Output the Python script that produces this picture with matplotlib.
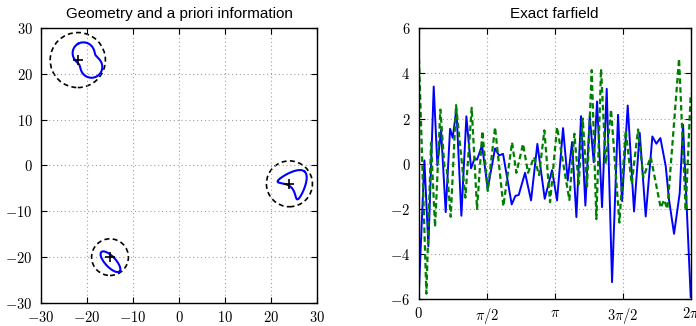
import numpy as np
import matplotlib

matplotlib.use("Agg")
import matplotlib.pyplot as plt
from matplotlib.patches import Circle

plt.rcParams["mathtext.fontset"] = "cm"
plt.rcParams["font.family"] = ["Liberation Sans", "DejaVu Sans"]

# left panel: a priori disks (centre, radius) and the three obstacles
disk_x = [-22, 24, -15]
disk_y = [23, -4, -20]
disk_r = [6, 5, 4]

peanut_center = (-19.9, 23.0)
peanut_size = 4.1
peanut_angle = 120.0

kite_center = (25.8, -3.0)
kite_size = (2.25, 2.0)
kite_angle = 48.0

ellipse_center = (-14.9, -21.0)
ellipse_axes = (2.9, 1.15)
ellipse_angle = -47.0

geo_ticks = [-30, -20, -10, 0, 10, 20, 30]

# right panel: exact farfield, angle in units of pi
blue_t = [0.000, 0.0417, 0.0711, 0.1103, 0.1373, 0.1642, 0.1985, 0.2304, 0.2500,
          0.2770, 0.3137, 0.3505, 0.3848, 0.4118, 0.4289, 0.4657, 0.5074, 0.5613,
          0.5907, 0.6201, 0.6838, 0.7108, 0.7353, 0.7819, 0.8260, 0.8725, 0.9265,
          0.9804, 1.0172, 1.0613, 1.0956, 1.1275, 1.1593, 1.1936, 1.2255, 1.2574,
          1.2868, 1.3113, 1.3480, 1.3824, 1.4216, 1.4657, 1.4951, 1.5368, 1.5833,
          1.6250, 1.6691, 1.7181, 1.7475, 1.7770, 1.8162, 1.8407, 1.8775, 1.9191,
          1.9436, 2.000]
blue_v = [-5.85, 0.15, -3.65, 3.42, -0.07, 1.5, -2.14, 1.55, 1.15,
          2.42, -2.3, 2.1, -0.2, 0.25, 0.18, 0.82, -1.1, 0.68,
          0.37, 0.44, -1.8, -1.42, -1.38, -0.4, -1.62, 0.88, -1.55,
          -0.28, -1.62, 1.58, -0.74, 0.96, -2.36, 2.11, -1.85, 2.11,
          0.07, 2.76, -1.92, 3.32, -5.24, 2.17, -1.65, 2.58, -2.11,
          1.37, -2.33, 1.21, 0.89, 1.14, -0.1, -1.6, -3.1, -1.3,
          1.73, -5.9]

green_t = [0.000, 0.0564, 0.0907, 0.1201, 0.1593, 0.1887, 0.2059, 0.2353, 0.2745,
           0.3431, 0.3897, 0.4289, 0.4681, 0.5074, 0.5613, 0.6225, 0.6863, 0.7181,
           0.7672, 0.8039, 0.8480, 0.8848, 0.9240, 0.9657, 1.0172, 1.1078, 1.1446,
           1.1765, 1.2059, 1.2377, 1.2721, 1.3064, 1.3407, 1.3750, 1.4142, 1.4755,
           1.5221, 1.5662, 1.6127, 1.6520, 1.7059, 1.7794, 1.8039, 1.8284, 1.9142,
           1.9632, 2.000]
green_v = [5.05, -5.75, 0.93, -2.8, 2.4, -0.1, -0.15, -2.35, 2.6,
           -1.5, 2.48, -2.0, 1.45, -1.2, 1.62, -1.88, 0.95, -0.4,
           0.88, -0.4, 0.3, -0.5, 1.48, -1.7, 1.62, -1.6, 1.33,
           -0.9, 2.0, -1.0, 4.15, -2.45, 4.2, 0.0, 2.4, -2.6,
           1.48, -0.89, 1.52, -0.6, 0.3, -1.95, -1.6, -2.0, 4.65,
           -2.07, 3.1]

ff_yticks = [-6, -4, -2, 0, 2, 4, 6]
ff_xticks = [0, 0.5, 1, 1.5, 2]
ff_xlabels = [r"$0$", r"$\pi/2$", r"$\pi$", r"$3\pi/2$", r"$2\pi$"]


def place(x, y, center, angle):
    a = np.deg2rad(angle)
    return (center[0] + np.cos(a) * x - np.sin(a) * y,
            center[1] + np.sin(a) * x + np.cos(a) * y)


def mathlabels(vals):
    return [r"$%d$" % v if v >= 0 else r"$-%d$" % -v for v in vals]


def style(ax):
    ax.grid(True, color="#a0a0a0", linestyle=(0, (1, 2.5)), linewidth=0.8)
    ax.tick_params(direction="in", top=True, right=True, length=4, width=0.8,
                   labelsize=10.5, colors="black")
    ax.tick_params(axis="y", pad=6)
    ax.tick_params(axis="x", pad=5)
    for s in ax.spines.values():
        s.set_linewidth(1.0)


t = np.linspace(0, 2 * np.pi, 400)

fig = plt.figure(figsize=(6.96, 3.26), dpi=100)
ax1 = fig.add_axes([0.0589, 0.0706, 0.3966, 0.8436])
ax2 = fig.add_axes([0.6016, 0.0819, 0.3908, 0.8313])

# obstacles
r = peanut_size * np.sqrt(np.cos(t) ** 2 + 0.25 * np.sin(t) ** 2)
ax1.plot(*place(r * np.cos(t), r * np.sin(t), peanut_center, peanut_angle),
         color="blue", lw=1.5)
kx = kite_size[0] * (np.cos(t) + 0.65 * np.cos(2 * t) - 0.65)
ky = kite_size[1] * 1.5 * np.sin(t)
ax1.plot(*place(kx, ky, kite_center, kite_angle), color="blue", lw=1.5)
ax1.plot(*place(ellipse_axes[0] * np.cos(t), ellipse_axes[1] * np.sin(t),
                ellipse_center, ellipse_angle), color="blue", lw=1.5)

for cx, cy, rr in zip(disk_x, disk_y, disk_r):
    ax1.add_patch(Circle((cx, cy), rr, fill=False, color="black", lw=1.2,
                         linestyle=(0, (3, 2))))
ax1.plot(disk_x, disk_y, "k+", ms=7, mew=1.2, linestyle="none")

ax1.set_xlim(-30, 30)
ax1.set_ylim(-30, 30)
ax1.set_xticks(geo_ticks)
ax1.set_yticks(geo_ticks)
ax1.set_xticklabels(mathlabels(geo_ticks))
ax1.set_yticklabels(mathlabels(geo_ticks))
style(ax1)
ax1.set_title("Geometry and a priori information", fontsize=11, pad=7.5)

# farfield
ax2.plot(np.array(blue_t) * np.pi, blue_v, color="blue", lw=1.4)
ax2.plot(np.array(green_t) * np.pi, green_v, color="#008000", lw=1.6,
         linestyle=(0, (2.5, 1.5)))
ax2.set_xlim(0, 2 * np.pi)
ax2.set_ylim(-6, 6)
ax2.set_xticks(np.array(ff_xticks) * np.pi)
ax2.set_xticklabels(ff_xlabels)
ax2.set_yticks(ff_yticks)
ax2.set_yticklabels(mathlabels(ff_yticks))
style(ax2)
ax2.set_title("Exact farfield", fontsize=11, pad=7.5)

fig.savefig("out.png", dpi=100)
